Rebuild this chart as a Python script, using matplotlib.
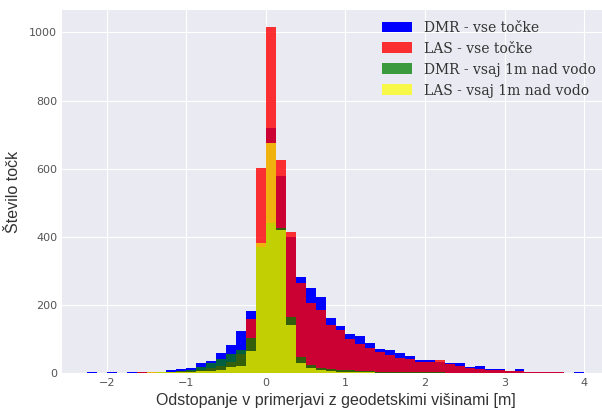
import numpy as np
import matplotlib
matplotlib.use("Agg")
import matplotlib.pyplot as plt

# 50 bins od -2.25 do 4.0 m
bin_edges = np.linspace(-2.25, 4.0, 51)

dmr_vse = [4, 1, 2, 1, 3, 2, 3, 4, 8, 11,
           14, 28, 34, 60, 82, 122, 181, 381, 719, 577,
           400, 281, 250, 222, 161, 137, 115, 110, 87, 70,
           68, 58, 50, 39, 38, 33, 30, 28, 19, 21,
           11, 11, 7, 11, 3, 2, 2, 2, 1, 2]
las_vse = [0, 0, 1, 1, 1, 2, 2, 2, 3, 5,
           7, 10, 14, 22, 32, 55, 160, 601, 1015, 626,
           415, 263, 205, 185, 140, 125, 100, 85, 72, 62,
           52, 45, 40, 33, 33, 38, 25, 20, 15, 12,
           10, 8, 6, 5, 4, 3, 3, 2, 1, 1]
dmr_1m = [0, 0, 1, 0, 1, 1, 1, 2, 3, 5,
          9, 19, 28, 42, 55, 68, 102, 370, 440, 425,
          165, 48, 23, 15, 12, 10, 8, 6, 5, 4,
          4, 3, 3, 2, 2, 2, 1, 1, 1, 1,
          1, 0, 1, 0, 0, 0, 0, 0, 0, 0]
las_1m = [0, 0, 1, 0, 1, 1, 2, 2, 2, 3,
          4, 5, 6, 9, 18, 20, 65, 382, 675, 420,
          140, 30, 15, 8, 5, 4, 3, 2, 2, 1,
          1, 1, 1, 1, 1, 0, 0, 0, 0, 0,
          0, 0, 0, 0, 0, 0, 0, 0, 0, 0]

oznake = ["DMR - vse točke", "LAS - vse točke",
          "DMR - vsaj 1m nad vodo", "LAS - vsaj 1m nad vodo"]

plt.style.use("seaborn-v0_8-darkgrid")

fig = plt.figure(figsize=(6.02, 4.12), dpi=100)
ax = fig.add_axes([62 / 602, 39 / 412, 547 / 602, 363 / 412])

centers = (bin_edges[:-1] + bin_edges[1:]) / 2
ax.hist(centers, bins=bin_edges, weights=dmr_vse, color="blue", alpha=1.0, label=oznake[0])
ax.hist(centers, bins=bin_edges, weights=las_vse, color="red", alpha=0.8, label=oznake[1])
ax.hist(centers, bins=bin_edges, weights=dmr_1m, color="green", alpha=0.75, label=oznake[2])
ax.hist(centers, bins=bin_edges, weights=las_1m, color="yellow", alpha=0.7, label=oznake[3])

ax.set_xticks(range(-2, 5))
ax.set_yticks(range(0, 1001, 200))
ax.tick_params(axis="both", labelsize=8, colors="#555555", length=0)
for t in ax.get_xticklabels() + ax.get_yticklabels():
    t.set_family("DejaVu Sans")

ax.set_xlabel("Odstopanje v primerjavi z geodetskimi višinami [m]",
              fontsize=11.5, family="Liberation Sans", color="#333333", labelpad=4)
ax.set_ylabel("Število točk", fontsize=11.5, family="Liberation Sans",
              color="#333333", labelpad=6)

leg = ax.legend(loc="upper left", bbox_to_anchor=(0.562, 1.005), frameon=False,
                prop={"family": "DejaVu Serif", "size": 10},
                handlelength=2.2, handleheight=0.8, labelspacing=0.5)
for t in leg.get_texts():
    t.set_color("#333333")

fig.savefig("out.png", dpi=100)
